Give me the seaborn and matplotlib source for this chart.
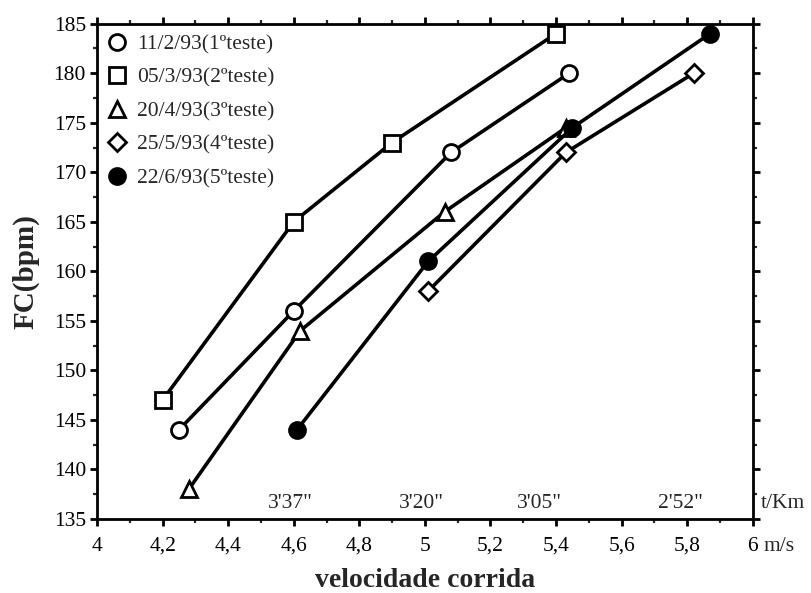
import matplotlib
matplotlib.use("Agg")
import matplotlib.pyplot as plt
from matplotlib.ticker import MultipleLocator, FixedLocator
import seaborn as sns
import pandas as pd

# Heart rate (FC, bpm) against running speed (m/s) for five test sessions
labels = ["11/2/93(1ºteste)", "05/3/93(2ºteste)", "20/4/93(3ºteste)",
          "25/5/93(4ºteste)", "22/6/93(5ºteste)"]
speed_t1 = [4.25, 4.60, 5.08, 5.44]
fc_t1 = [144, 156, 172, 180]
speed_t2 = [4.20, 4.60, 4.90, 5.40]
fc_t2 = [147, 165, 173, 184]
speed_t3 = [4.28, 4.62, 5.06, 5.43]
fc_t3 = [138, 154, 166, 174.5]
speed_t4 = [5.01, 5.43, 5.82]
fc_t4 = [158, 172, 180]
speed_t5 = [4.61, 5.01, 5.45, 5.87]
fc_t5 = [144, 161, 174.5, 184]

# pace per km shown along the speed axis
pace_speed = [4.59, 4.99, 5.35, 5.78]
pace_text = ["3'37\"", "3'20\"", "3'05\"", "2'52\""]

x_ticks = [4.0, 4.2, 4.4, 4.6, 4.8, 5.0, 5.2, 5.4, 5.6, 5.8, 6.0]
x_tick_text = ["4", "4,2", "4,4", "4,6", "4,8", "5", "5,2", "5,4", "5,6", "5,8", "6"]

sns.set_style("ticks")
plt.rcParams["font.family"] = ["Liberation Serif", "DejaVu Serif"]
plt.rcParams["axes.linewidth"] = 2.0

fig = plt.figure(figsize=(8.12, 5.93), dpi=100)
ax = fig.add_axes([0.1195, 0.125, 0.8075, 0.835])

series = [
    (speed_t1, fc_t1, "o", "white"),
    (speed_t2, fc_t2, "s", "white"),
    (speed_t3, fc_t3, "^", "white"),
    (speed_t4, fc_t4, "D", "white"),
    (speed_t5, fc_t5, "o", "black"),
]
for (xs, ys, mk, face), lab in zip(series, labels):
    df = pd.DataFrame({"speed": xs, "fc": ys})
    ms = 9.5 if mk == "D" else 11.5
    sns.lineplot(data=df, x="speed", y="fc", ax=ax, sort=False, color="black",
                 linewidth=2.6, marker=mk, markersize=ms, markerfacecolor=face,
                 markeredgecolor="black", markeredgewidth=2.0, label=lab,
                 clip_on=False, zorder=3)

ax.set_xlim(4, 6)
ax.set_ylim(135, 185)
ax.xaxis.set_major_locator(FixedLocator(x_ticks))
ax.set_xticklabels(x_tick_text)
ax.xaxis.set_minor_locator(MultipleLocator(0.1))
ax.yaxis.set_major_locator(MultipleLocator(5))
ax.yaxis.set_minor_locator(MultipleLocator(2.5))
ax.tick_params(axis="both", which="major", direction="out", length=5, width=2,
               labelsize=15.5, top=True, right=True, pad=3, colors="black")
ax.tick_params(axis="x", which="major", pad=8)
ax.tick_params(axis="both", which="minor", direction="out", length=3, width=1.6,
               top=True, right=True)
for s in ax.spines.values():
    s.set_visible(True)
    s.set_color("black")

ax.set_xlabel("velocidade corrida", fontsize=20, fontweight="bold", labelpad=9)
ax.set_ylabel("FC(bpm)", fontsize=21, fontweight="bold", labelpad=10)

# unit after the last speed tick, on the tick-label line
ax.annotate("m/s", xy=(6.0, 0), xycoords=("data", "axes fraction"),
            xytext=(8, -13), textcoords="offset points", ha="left", va="top",
            fontsize=15.5)
# pace labels and their unit
for xp, tx in zip(pace_speed, pace_text):
    ax.text(xp, 135.6, tx, ha="center", va="bottom", fontsize=15.5)
ax.text(1.012, 135.6, "t/Km", transform=ax.get_yaxis_transform(), ha="left",
        va="bottom", fontsize=15.5)

leg = ax.legend(loc="upper left", frameon=False, fontsize=15.5, handlelength=0.9,
                handletextpad=0.45, labelspacing=0.62, borderaxespad=0.3,
                borderpad=0.2)
for h in leg.legend_handles:
    h.set_linestyle("none")

fig.savefig("out.png", dpi=100)
